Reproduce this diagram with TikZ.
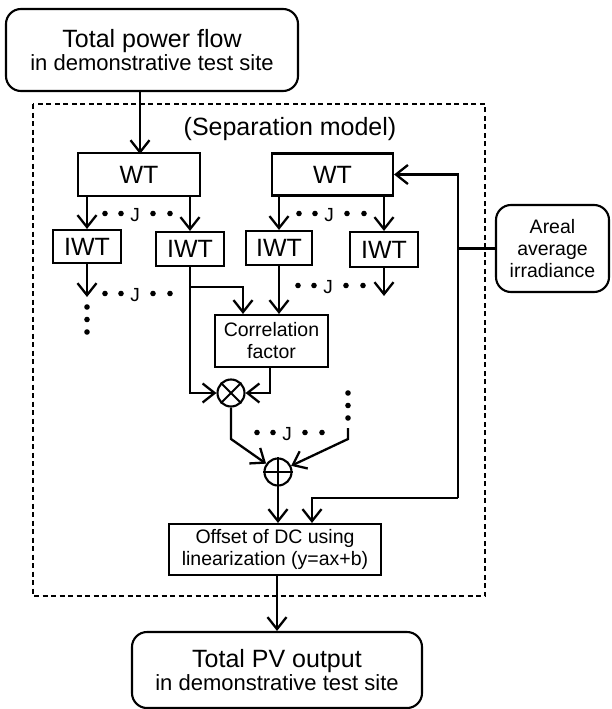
\documentclass[tikz,border=0pt]{standalone}
\usepackage{fontspec}
\setmainfont{Liberation Sans}
\usetikzlibrary{arrows.meta,calc}
\newcommand\jrow[3]{%
  \node[jf] (#1) at (#2,#3) {J};
  \foreach \dx in {-30,-14,18,35} \fill ($(#1)+(\dx,-1.5)$) circle (2.8pt);
}
\newcommand\mydotcol[3]{%
  \foreach \dy in {0,12.5,25} \fill (#1,#2+\dy) circle (2.8pt);
}
\begin{document}
\begin{tikzpicture}[x=1pt,y=-1pt,
  ln/.style={line width=2.3pt},
  arr/.style={line width=2.3pt,-{Straight Barb[length=12pt,width=19pt,line width=2.3pt]}},
  box/.style={draw,line width=2.1pt,inner sep=0pt,align=center},
  rbox/.style={box,rounded corners=15pt},
  bigf/.style={font=\fontsize{25}{28}\selectfont},
  midf/.style={font=\fontsize{19.5}{22}\selectfont},
  jf/.style={inner sep=0pt,font=\fontsize{19}{20}\selectfont},
  circ/.style={draw,circle,line width=2.1pt,minimum size=27pt,inner sep=0pt}
]
\useasboundingbox (0,0) rectangle (611,709);

% dashed frame
\draw[line width=1.1pt,dash pattern=on 5pt off 3.5pt] (33,104) rectangle (485,596);
\node[bigf,anchor=base] (sep) at (290,135) {(Separation model)};

% top and bottom boxes
\node[rbox,minimum width=292pt,minimum height=82pt] (top) at (152,50)
  {{\fontsize{25}{28}\selectfont Total power flow}\\[0pt]{\fontsize{22}{26}\selectfont in demonstrative test site}};
\node[rbox,minimum width=290pt,minimum height=76pt] (pv) at (277,670)
  {{\fontsize{25}{28}\selectfont Total PV output}\\[0pt]{\fontsize{22}{26}\selectfont in demonstrative test site}};
\node[rbox,midf,minimum width=113pt,minimum height=87pt] (areal) at (552.5,248.5)
  {Areal\\average\\irradiance};

% WT and IWT
\node[box,bigf,minimum width=122pt,minimum height=43pt] (wt1) at (139,174.5) {WT};
\node[box,bigf,minimum width=121pt,minimum height=42pt] (wt2) at (332.5,174.5) {WT};
\node[box,bigf,minimum width=68pt,minimum height=33pt] (iwt1) at (87,246.5) {IWT};
\node[box,bigf,minimum width=68pt,minimum height=34pt] (iwt2) at (190,249) {IWT};
\node[box,bigf,minimum width=66pt,minimum height=34pt] (iwt3) at (279,248) {IWT};
\node[box,bigf,minimum width=68pt,minimum height=35pt] (iwt4) at (384,249.5) {IWT};

\node[box,midf,minimum width=113pt,minimum height=52pt] (corr) at (271.5,341) {Correlation\\factor};
\node[box,midf,minimum width=212pt,minimum height=51pt] (off) at (275,549.5) {Offset of DC using\\linearization (y=ax+b)};

\node[circ] (mul) at (231,393) {};
\draw[line width=2.1pt] (mul.north east) -- (mul.south west) (mul.north west) -- (mul.south east);
\node[circ] (add) at (278,472) {};
\draw[line width=2.1pt] (add.north) -- (add.south) (add.west) -- (add.east);

% J rows and dots
\jrow{j1}{135}{215}
\jrow{j2}{329}{215}
\jrow{j3}{135}{295}
\jrow{j4}{328}{287}
\jrow{j5}{287}{434}
\mydotcol{87}{307}
\mydotcol{384}{309}
\mydotcol{348}{393}

% connectors
\draw[arr] (wt1.north |- top.south) ++(1,0) -- ++(0,62);
\draw[arr] (iwt1.north |- wt1.south) -- (iwt1.north);
\draw[arr] (iwt2.north |- wt1.south) -- (iwt2.north);
\draw[arr] (iwt3.north |- wt2.south) -- (iwt3.north);
\draw[arr] (iwt4.north |- wt2.south) -- (iwt4.north);

\coordinate (d1) at (87,297);
\coordinate (d4) at (384,296);
\draw[arr] (iwt1.south) -- (d1);
\draw[arr] (iwt4.south) -- (d4);

\coordinate (br) at (190,287);
\draw[arr] (br) -| ($(corr.north)+(-28.5,0)$);
\draw[arr] (iwt2.south) |- (mul.west);
\draw[arr] (iwt3.south) -- (iwt3.south |- corr.north);
\draw[arr] ($(corr.south)+(-1.5,0)$) |- (mul.east);

\coordinate (m2) at (231,439);
\draw[arr] (mul.south) -- (m2) -- (add);
\coordinate (r1) at (348,428);
\coordinate (r2) at (348,439);
\draw[arr] (r1) -- (r2) -- (add);

\draw[arr] (add.south) -- (add.south |- off.north);

\coordinate (jb) at (458,498);
\draw[arr] (jb) |- (wt2.east);
\draw[arr] (jb) -| ($(off.north)+(37,0)$);
\draw[ln] (areal.west) -- (areal.west -| jb);

\draw[arr] (off.south -| pv.north) -- (pv.north);
\end{tikzpicture}
\end{document}
